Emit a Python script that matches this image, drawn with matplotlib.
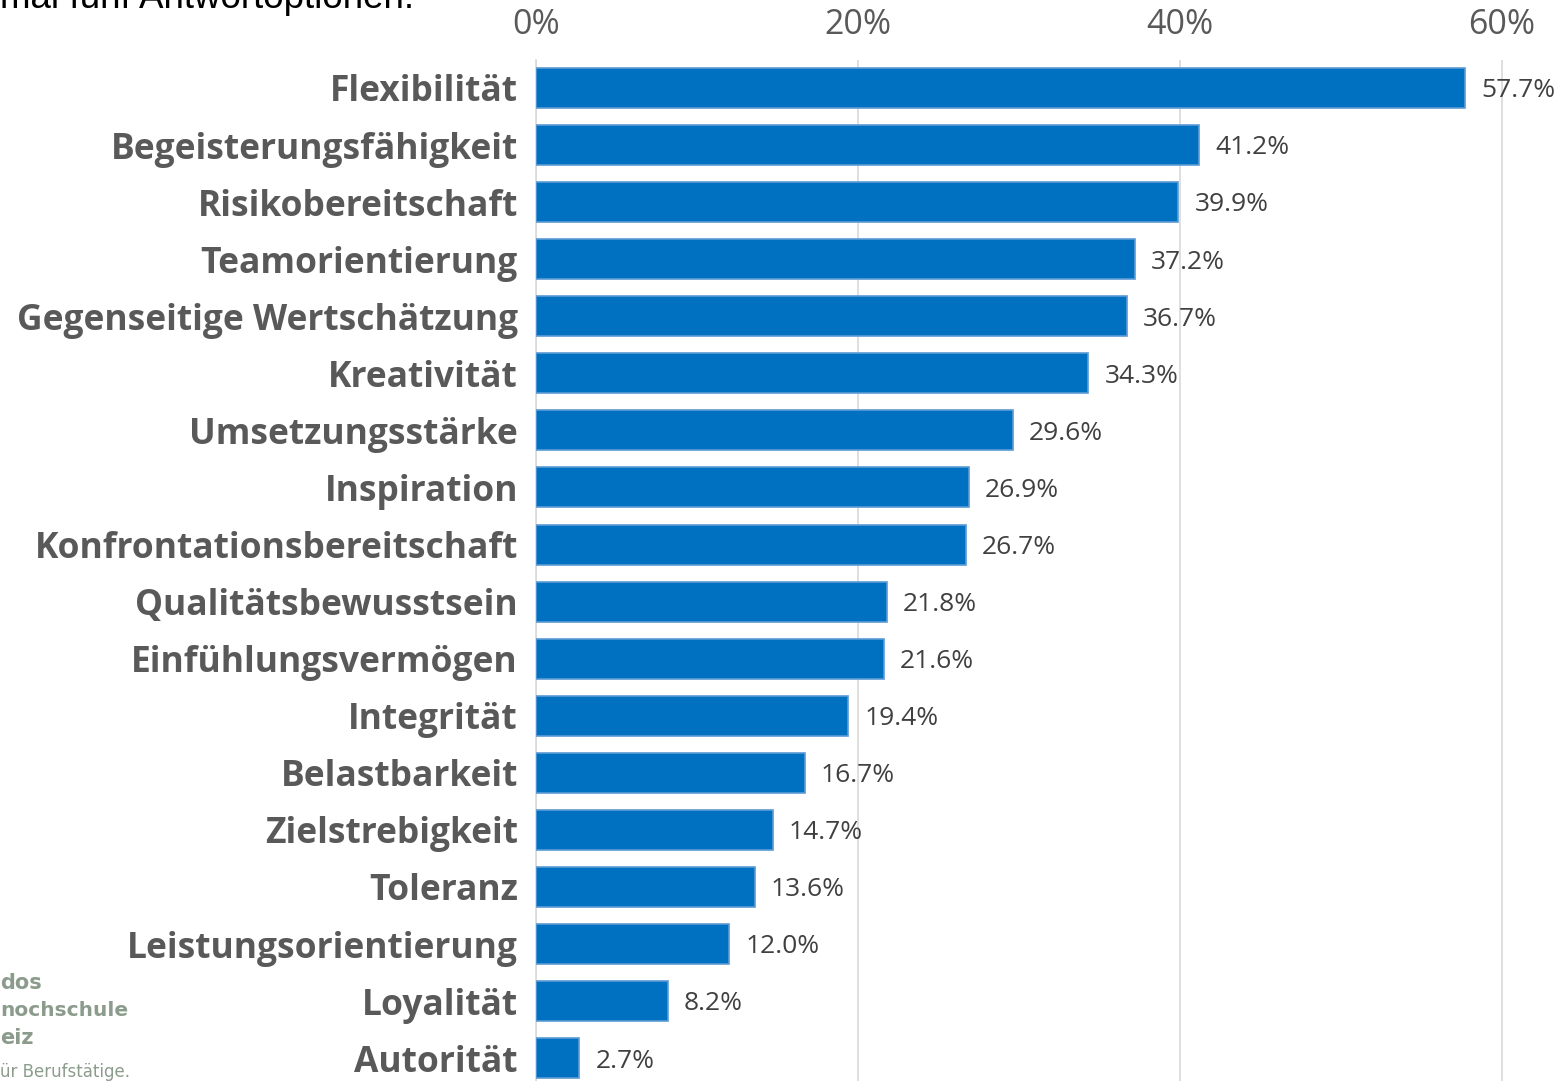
import matplotlib.pyplot as plt

# Werte (Prozent)
categories = ['Flexibilität', 'Begeisterungsfähigkeit', 'Risikobereitschaft',
              'Teamorientierung', 'Gegenseitige Wertschätzung', 'Kreativität',
              'Umsetzungsstärke', 'Inspiration', 'Konfrontationsbereitschaft',
              'Qualitätsbewusstsein', 'Einfühlungsvermögen', 'Integrität',
              'Belastbarkeit', 'Zielstrebigkeit', 'Toleranz',
              'Leistungsorientierung', 'Loyalität', 'Autorität']
values = [57.7, 41.2, 39.9, 37.2, 36.7, 34.3, 29.6, 26.9, 26.7,
          21.8, 21.6, 19.4, 16.7, 14.7, 13.6, 12.0, 8.2, 2.7]
x_ticks = [0, 20, 40, 60]
x_tick_labels = ['0%', '20%', '40%', '60%']

W, H = 1567, 1081
fig = plt.figure(figsize=(W / 100, H / 100), dpi=100)

# 0% bei x=536px, 60% bei x=1502px
px_per_pct = (1502 - 536) / 60
left = 536 / W
ax = fig.add_axes([left, 0, 1 - left, 1 - 60 / H])
ax.set_xlim(0, (W - 536) / px_per_pct)

pos = list(range(len(categories)))
ax.barh(pos, values, height=0.7, color='#0070C0', edgecolor='#5B9BD5',
        linewidth=1.2, zorder=3)
ax.set_ylim(17.40, -0.49)

ax.set_yticks(pos)
ax.set_yticklabels(categories, fontsize=25.5, fontweight='bold',
                   color='#595959', family='Open Sans')
ax.tick_params(axis='y', length=0, pad=13)
for lbl in ax.get_yticklabels():
    lbl.set_y(lbl.get_position()[1])

ax.xaxis.tick_top()
ax.set_xticks(x_ticks)
ax.set_xticklabels(x_tick_labels, fontsize=24.5, color='#595959',
                   family='Open Sans')
ax.tick_params(axis='x', length=0, pad=13)

ax.grid(axis='x', color='#D9D9D9', linewidth=1.2, zorder=0)
for side in ['top', 'right', 'bottom']:
    ax.spines[side].set_visible(False)
ax.spines['left'].set_color('#D9D9D9')
ax.spines['left'].set_linewidth(1.2)

for p, v in zip(pos, values):
    ax.text(v + 1.0, p + 0.05, '{:.1f}%'.format(v), va='center', ha='left',
            fontsize=19, color='#404040', family='Open Sans')

# abgeschnittener Folientext oben links
fig.text(0.0, 1 - 8 / H, 'mal fünf Antwortoptionen.', fontsize=26.5,
         color='black', family='Liberation Sans', va='baseline', ha='left')

# abgeschnittenes Logo unten links
logo_color = '#8C9C8C'
fig.text(0.0, 1 - 983 / H, 'dos', fontsize=15, fontweight='bold',
         color=logo_color, family='DejaVu Sans', va='center', ha='left')
fig.text(0.0, 1 - 1011 / H, 'nochschule', fontsize=14.5, fontweight='bold',
         color=logo_color, family='DejaVu Sans', va='center', ha='left')
fig.text(0.0, 1 - 1038 / H, 'eiz', fontsize=15, fontweight='bold',
         color=logo_color, family='DejaVu Sans', va='center', ha='left')
fig.text(0.0, 1 - 1072 / H, 'ür Berufstätige.', fontsize=12,
         color=logo_color, family='DejaVu Sans', va='center', ha='left')

fig.savefig('out.png', dpi=100)
